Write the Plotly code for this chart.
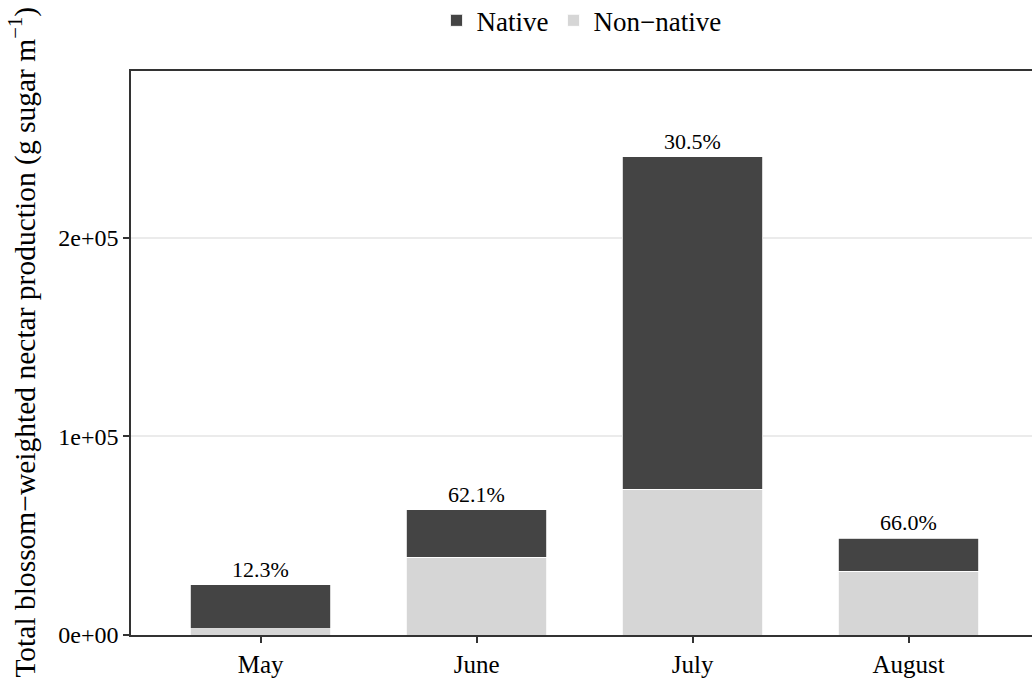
import plotly.graph_objects as go

# Monthly blossom-weighted nectar production, split by plant origin
months = ["May", "June", "July", "August"]
non_native = [3110, 39100, 73400, 32200]
native = [22190, 23900, 167300, 16600]

y_tick_vals = [0, 100000, 200000]
y_tick_text = ["0e+00", "1e+05", "2e+05"]

DARK = "#444444"
LIGHT = "#D6D6D6"
AXIS = "#333333"
FONT = "Liberation Serif"

totals = [a + b for a, b in zip(non_native, native)]
pct_labels = [f"{100 * n / t:.1f}%" for n, t in zip(non_native, totals)]

fig = go.Figure()
fig.add_trace(go.Bar(
    x=months, y=non_native, name="Non\u2212native",
    marker=dict(color=LIGHT, line=dict(color="white", width=0.8)),
    width=0.65,
))
fig.add_trace(go.Bar(
    x=months, y=native, name="Native",
    marker=dict(color=DARK, line=dict(color="white", width=0.8)),
    width=0.65,
))

# percentage of non-native production above each stacked bar
for m, t, lab in zip(months, totals, pct_labels):
    fig.add_annotation(
        x=m, y=t, text=lab, showarrow=False,
        yanchor="bottom", yshift=1,
        font=dict(family=FONT, size=22, color="black"),
    )

# y-axis title as a rotated annotation
fig.add_annotation(
    xref="paper", yref="paper", x=0, y=-0.08,
    xanchor="center", yanchor="bottom", xshift=-108,
    text="Total blossom\u2212weighted nectar production (g sugar m<sup>\u22121</sup>)",
    textangle=-90, showarrow=False,
    font=dict(family=FONT, size=29.5, color="black"),
)

fig.update_layout(
    barmode="stack",
    width=1032, height=681,
    margin=dict(l=131, r=0, t=71, b=46, autoexpand=False),
    paper_bgcolor="white", plot_bgcolor="white",
    font=dict(family=FONT, size=25, color="black"),
    showlegend=True,
    legend=dict(
        orientation="h", x=0.5, xanchor="center", y=1.089, yanchor="middle",
        traceorder="reversed", font=dict(family=FONT, size=27, color="black"),
        bgcolor="rgba(0,0,0,0)",
    ),
    bargap=0.35,
)

fig.update_xaxes(
    type="category", range=[-0.6, 3.571],
    showline=True, linecolor=AXIS, linewidth=1.5, mirror=True,
    ticks="outside", ticklen=6, tickwidth=1.5, tickcolor=AXIS,
    showgrid=False, tickfont=dict(family=FONT, size=25, color="black"),
)
fig.update_yaxes(
    range=[0, 284000],
    tickvals=y_tick_vals, ticktext=y_tick_text,
    showline=True, linecolor=AXIS, linewidth=1.5,
    ticks="outside", ticklen=6, tickwidth=1.5, tickcolor=AXIS,
    showgrid=True, gridcolor="#EBEBEB", gridwidth=1.5,
    zeroline=False,
    tickfont=dict(family=FONT, size=24, color="black"),
)

fig.write_html("out.html")
